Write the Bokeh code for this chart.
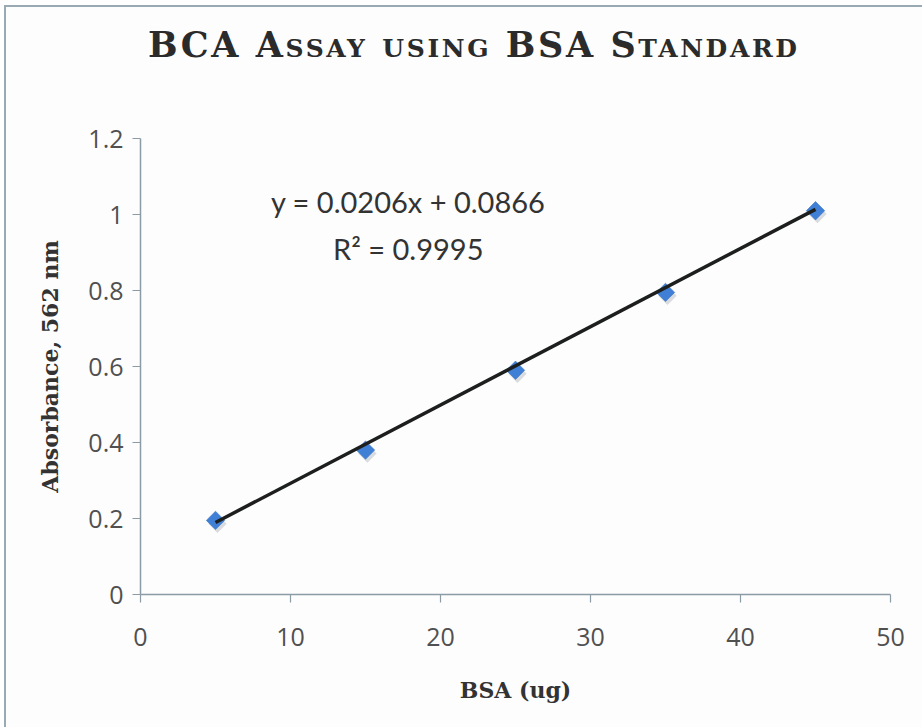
import math
from bokeh.plotting import figure
from bokeh.layouts import column
from bokeh.models import (Range1d, FixedTicker, PrintfTickFormatter, Label,
                          ColumnDataSource, Div)
from bokeh.transform import dodge
from bokeh.embed import file_html
from bokeh.resources import INLINE

# BSA standard amounts (ug) and measured absorbance at 562 nm
bsa_ug = [5, 15, 25, 35, 45]
absorbance = [0.195, 0.38, 0.59, 0.795, 1.01]

# linear fit reported on the chart
slope = 0.0206
intercept = 0.0866
r_squared = 0.9995

x_ticks = [0, 10, 20, 30, 40, 50]
y_ticks = [0, 0.2, 0.4, 0.6, 0.8, 1.0, 1.2]

chart_title = "BCA Assay using BSA Standard"

axis_color = "#8c9ca6"
tick_text = "#505050"
bg = "#fdfdfd"

# title strip drawn in small capitals
title_div = Div(
    text=(
        '<div style="margin:0;padding:18px 0 0 142px;'
        "font-family:'DejaVu Serif';font-weight:bold;font-variant:small-caps;"
        'font-size:35px;line-height:40px;letter-spacing:2.6px;color:#2b2b2b;'
        f'white-space:nowrap;">{chart_title}</div>'
    ),
    width=916, height=70,
    styles={"background-color": bg, "margin": "0", "padding": "0"},
)

p = figure(
    width=916, height=650,
    x_range=Range1d(0, 50), y_range=Range1d(0, 1.2),
    output_backend="svg", toolbar_location=None,
    min_border_left=134, min_border_right=32,
    min_border_top=61, min_border_bottom=133,
    background_fill_color=bg, border_fill_color=bg,
)
p.outline_line_color = None
p.grid.visible = False

# axes
for ax in (p.xaxis[0], p.yaxis[0]):
    ax.axis_line_color = axis_color
    ax.axis_line_width = 1.5
    ax.major_tick_line_color = axis_color
    ax.major_tick_line_width = 1.2
    ax.major_tick_in = 0
    ax.major_tick_out = 8
    ax.minor_tick_line_color = None
    ax.major_label_text_font = "Open Sans"
    ax.major_label_text_font_size = "25px"
    ax.major_label_text_color = tick_text
    ax.axis_label_text_font = "DejaVu Serif"
    ax.axis_label_text_font_style = "bold"
    ax.axis_label_text_font_size = "22px"
    ax.axis_label_text_color = "#333333"
    ax.formatter = PrintfTickFormatter(format="%g")

p.xaxis.ticker = FixedTicker(ticks=x_ticks)
p.yaxis.ticker = FixedTicker(ticks=y_ticks)
p.xaxis.axis_label = "BSA (ug)"
p.yaxis.axis_label = "Absorbance, 562 nm"
p.xaxis.major_label_standoff = 25
p.yaxis.major_label_standoff = 9
p.xaxis.axis_label_standoff = 28
p.yaxis.axis_label_standoff = 22

src = ColumnDataSource(dict(x=bsa_ug, y=absorbance))

# soft drop shadow under the markers, then the markers themselves
p.scatter(dodge("x", 0.13, range=p.x_range), dodge("y", -0.009, range=p.y_range),
          source=src, marker="square", angle=math.pi / 4, size=13,
          fill_color="#d8dbdf", line_color=None)
p.scatter("x", "y", source=src, marker="square", angle=math.pi / 4, size=13,
          fill_color="#3f80d6", line_color="#3a74c2", line_width=0.6)

# linear trend line over the measured range
fit_x = [min(bsa_ug), max(bsa_ug)]
fit_y = [slope * v + intercept for v in fit_x]
p.line(fit_x, fit_y, line_color="#1c1f1d", line_width=3.5)

eq_font = "Lato"
p.add_layout(Label(x=17.85, y=1.035, text=f"y = {slope}x + {intercept}",
                   text_font=eq_font, text_font_size="29px", text_color="#333333",
                   text_align="center", text_baseline="middle"))
p.add_layout(Label(x=17.85, y=0.91, text=f"R\u00b2 = {r_squared}",
                   text_font=eq_font, text_font_size="29px", text_color="#333333",
                   text_align="center", text_baseline="middle"))

# page frame: thin rule along the top and left edges
layout = column(title_div, p, spacing=0)
layout.styles = {
    "margin-left": "4px", "margin-top": "5px",
    "border-left": "2px solid #9aaab4", "border-top": "2px solid #9aaab4",
    "background-color": bg,
}

open("out.html", "w").write(file_html(layout, INLINE))
